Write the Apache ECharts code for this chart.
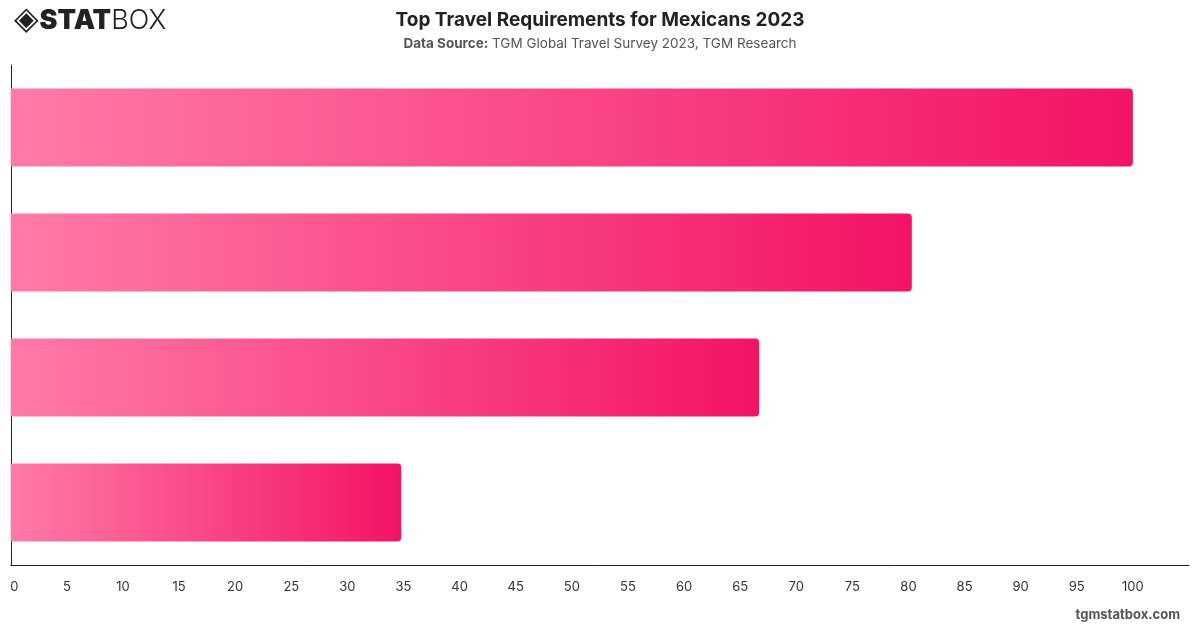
<!DOCTYPE html>
<html>
<head>
<meta charset="utf-8">
<script src="https://cdn.jsdelivr.net/npm/echarts@6/dist/echarts.min.js"></script>
<style>
  html, body { margin: 0; padding: 0; background: #fff; }
  #chart { width: 1200px; height: 628px; }
</style>
</head>
<body>
<div id="chart"></div>
<script>
// categories are not labelled in the picture, listed bottom to top
const categories = ['Requirement 4', 'Requirement 3', 'Requirement 2', 'Requirement 1'];
const values = [34.8, 66.7, 80.3, 100];

const chart = echarts.init(document.getElementById('chart'));

const barGradient = new echarts.graphic.LinearGradient(0, 0, 1, 0, [
  { offset: 0, color: '#ff7ba6' },
  { offset: 1, color: '#f31366' }
]);

const option = {
  backgroundColor: '#fff',
  title: {
    text: 'Top Travel Requirements for Mexicans 2023',
    left: 'center',
    top: 6,
    textStyle: {
      fontFamily: 'Inter',
      fontSize: 19,
      fontWeight: 'bold',
      color: '#222'
    }
  },
  graphic: [
    {
      type: 'text',
      left: 'center',
      top: 37,
      style: {
        text: '{b|Data Source:} TGM Global Travel Survey 2023, TGM Research',
        fontFamily: 'Inter',
        fontSize: 13.5,
        fill: '#555',
        rich: {
          b: { fontFamily: 'Inter', fontSize: 13.5, fontWeight: 'bold', fill: '#555' }
        }
      }
    },
    {
      type: 'text',
      left: 14,
      top: 5,
      style: {
        text: '{i|◈}{s|STAT}{x|BOX}',
        rich: {
          i: { fontSize: 32, fill: '#222', fontFamily: 'DejaVu Sans', padding: [0, 1, 0, 0] },
          s: { fontSize: 27, fontWeight: 900, fill: '#222', fontFamily: 'Inter' },
          x: { fontSize: 27, fontWeight: 300, fill: '#222', fontFamily: 'Inter' }
        }
      }
    },
    {
      type: 'text',
      right: 20,
      top: 609,
      style: {
        text: 'tgmstatbox.com',
        fontFamily: 'Inter',
        fontSize: 13,
        fontWeight: 'bold',
        fill: '#555'
      }
    }
  ],
  grid: {
    left: 10,
    right: 11,
    top: 65,
    bottom: 63,
    containLabel: false
  },
  xAxis: {
    type: 'value',
    min: 0,
    max: 105,
    interval: 5,
    splitLine: { show: false },
    axisLine: { show: true, lineStyle: { color: '#222', width: 1 } },
    axisTick: { show: false },
    axisLabel: {
      showMaxLabel: false,
      margin: 16,
      fontFamily: 'Inter',
      fontSize: 13,
      color: '#333',
      formatter: function (v) { return v === 0 ? '  0' : String(v); }
    }
  },
  yAxis: {
    type: 'category',
    data: categories,
    axisLine: { show: true, lineStyle: { color: '#222', width: 1 } },
    axisTick: { show: false },
    axisLabel: { show: false }
  },
  series: [
    {
      type: 'bar',
      data: values,
      barWidth: '62.5%',
      itemStyle: {
        color: barGradient,
        borderRadius: [0, 4, 4, 0]
      }
    }
  ]
};

chart.setOption(option);
</script>
</body>
</html>
